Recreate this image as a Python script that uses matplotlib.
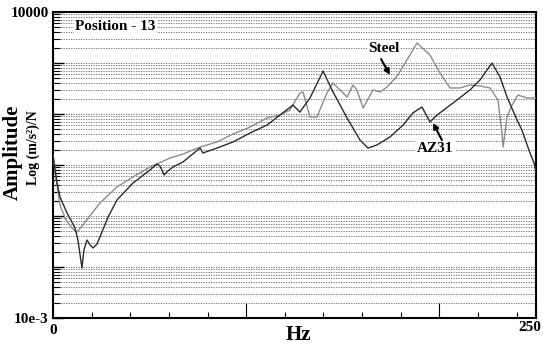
import matplotlib
matplotlib.use("Agg")
import matplotlib.pyplot as plt
from matplotlib.ticker import LogLocator, FixedLocator, MultipleLocator, FuncFormatter, NullFormatter
from matplotlib.transforms import ScaledTranslation

# ---- data ----
steel_hz = [0, 1.55, 3.6, 6.7, 9.8, 12.4, 15.5, 24.3, 33.1, 41.4, 50.2, 60.6, 67.3, 76.1,
            84.9, 93.2, 102.0, 110.8, 117.5, 122.7, 127.8, 129.4, 133.0, 136.6, 141.8,
            144.9, 148.6, 152.2, 155.3, 157.3, 160.5, 165.6, 169.3, 172.9, 178.1, 183.2,
            188.4, 195.1, 200.3, 205.5, 210.7, 215.8, 221.0, 226.2, 230.3, 232.4, 233.0,
            235.0, 237.6, 240.7, 245.3, 250.0]
steel_amp = [15.7, 5.56, 1.64, 0.835, 0.582, 0.485, 0.667, 1.80, 3.71, 5.82, 9.14, 13.7,
             16.4, 22.5, 28.3, 40.5, 55.6, 83.6, 95.5, 120, 258, 270, 87.3, 87.3, 258,
             405, 296, 215, 371, 296, 131, 296, 270, 338, 556, 1145, 2465, 1437, 637,
             324, 324, 371, 354, 324, 188, 42.4, 22.5, 87.3, 150, 236, 206, 206]

az31_hz = [0, 2.07, 3.62, 7.25, 11.4, 12.9, 15.0, 16.0, 17.6, 19.2, 20.7, 22.8, 24.3, 28.5,
           33.1, 41.4, 50.2, 53.8, 55.4, 57.5, 59.5, 62.1, 67.3, 76.1, 77.6, 84.9, 93.2,
           102.0, 110.8, 117.5, 124.2, 127.8, 133.0, 139.8, 144.4, 152.2, 158.9, 163.0,
           167.7, 174.4, 181.2, 186.3, 191.0, 195.1, 198.8, 207.0, 215.8, 221.0, 227.2,
           231.4, 235.0, 240.2, 242.7, 246.9, 249.0, 250.0]
az31_amp = [15.7, 4.43, 2.36, 1.15, 0.582, 0.338, 0.0955, 0.215, 0.338, 0.270, 0.236,
            0.283, 0.388, 0.955, 2.06, 4.43, 7.98, 10.5, 9.55, 6.37, 7.63, 9.14, 11.5,
            21.5, 17.2, 21.5, 28.3, 42.4, 60.8, 95.5, 150, 109, 206, 697, 296, 83.6,
            30.9, 21.5, 24.7, 35.4, 60.8, 105, 137, 69.7, 95.5, 164, 296, 464, 1000,
            531, 215, 76.2, 48.5, 17.2, 10.9, 7.3]

title_text = "Position - 13"
steel_label = "Steel"
az31_label = "AZ31"

serif = ["Liberation Serif", "DejaVu Serif"]
plt.rcParams["font.family"] = serif
plt.rcParams["font.weight"] = "bold"

fig = plt.figure(figsize=(5.43, 3.46), dpi=100)
ax = fig.add_axes([53 / 543, 1 - 318 / 346, 483 / 543, 306 / 346])

ax.plot(steel_hz, steel_amp, color="#8c8c8c", lw=1.0, zorder=3)
ax.plot(az31_hz, az31_amp, color="#2b2b2b", lw=1.0, zorder=3)

ax.set_yscale("log")
ax.set_xlim(0, 250)
ax.set_ylim(1e-2, 1e4)

# y ticks
ax.yaxis.set_major_locator(LogLocator(base=10, numticks=12))
ax.yaxis.set_minor_locator(LogLocator(base=10, subs=range(2, 10), numticks=12))


def yfmt(v, pos):
    if abs(v - 1e4) < 1:
        return "10000"
    if abs(v - 1e-2) < 1e-6:
        return "10e-3"
    return ""


ax.yaxis.set_major_formatter(FuncFormatter(yfmt))
ax.yaxis.set_minor_formatter(NullFormatter())

# x ticks
ax.xaxis.set_major_locator(FixedLocator([0, 100, 200, 250]))
ax.xaxis.set_minor_locator(MultipleLocator(20))
ax.xaxis.set_major_formatter(FuncFormatter(lambda v, p: {0: "0", 250: "250"}.get(int(round(v)), "")))

ax.tick_params(axis="both", which="both", direction="in", labelsize=11)
ax.tick_params(axis="y", which="major", length=8, width=1.0, pad=3)
ax.tick_params(axis="y", which="minor", length=5, width=0.8)
ax.tick_params(axis="x", which="major", length=11, width=0.8, pad=4)
ax.tick_params(axis="x", which="minor", length=4, width=0.8)
for lbl in ax.get_xticklabels() + ax.get_yticklabels():
    lbl.set_fontweight("bold")

ax.grid(True, axis="y", which="both", color="#606060", lw=0.6, linestyle=(0, (1.5, 1.5)))
ax.set_axisbelow(True)

for sp in ax.spines.values():
    sp.set_linewidth(1.5)
    sp.set_color("black")

# labels
ax.set_xlabel("Hz", fontsize=15, fontweight="bold", va="center")
ax.xaxis.set_label_coords((298 - 53) / 483, (318 - 335) / 306)
ax.set_ylabel("Amplitude", fontsize=15, fontweight="bold", va="center")
ax.yaxis.set_label_coords((13 - 53) / 483, (318 - 152) / 306)
ax.text((33 - 53) / 483, (318 - 148) / 306, "Log (m/s²)/N", transform=ax.transAxes,
        rotation=90, fontsize=10, fontweight="bold", ha="center", va="center")

ax.text((75 - 53) / 483, (318 - 26) / 306, title_text, transform=ax.transAxes,
        fontsize=11, fontweight="bold", ha="left", va="center", zorder=5,
        bbox=dict(facecolor="white", edgecolor="none", pad=1))

ax.text(171.3, 1968, steel_label, fontsize=11, fontweight="bold", ha="center", va="center",
        zorder=5, bbox=dict(facecolor="white", edgecolor="none", pad=1))
ax.annotate("", xy=(174.4, 582), xytext=(169.8, 1197), zorder=6,
            arrowprops=dict(arrowstyle="-|>", color="black", lw=1.5, mutation_scale=8,
                            shrinkA=0, shrinkB=0))

ax.text(197.7, 20.6, az31_label, fontsize=11, fontweight="bold", ha="center", va="center",
        zorder=5, bbox=dict(facecolor="white", edgecolor="none", pad=1))
ax.annotate("", xy=(196.7, 66.7), xytext=(201.3, 30.9), zorder=6,
            arrowprops=dict(arrowstyle="-|>", color="black", lw=1.5, mutation_scale=8,
                            shrinkA=0, shrinkB=0))

# nudge the "250" label left so it fits inside the figure like the reference
fig.canvas.draw()
for lbl in ax.get_xticklabels():
    if lbl.get_text() == "250":
        lbl.set_transform(lbl.get_transform() + ScaledTranslation(-6 / 100, 3 / 100, fig.dpi_scale_trans))

fig.savefig("out.png", dpi=100)
